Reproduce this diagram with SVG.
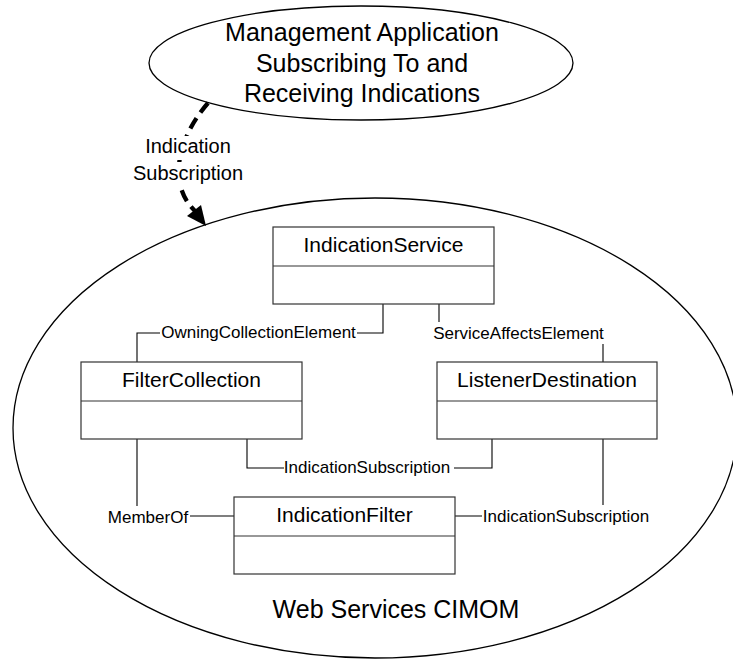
<svg xmlns="http://www.w3.org/2000/svg" width="733" height="659" viewBox="0 0 733 659">
<style>
.bg{fill:#fff}
.ell{fill:none;stroke:#000;stroke-width:1.3}
.box rect{fill:#fff;stroke:#333;stroke-width:1.2}
.box line{stroke:#333;stroke-width:1.2}
.title{font-family:"Liberation Sans",Arial,sans-serif;font-size:21px;fill:#000;text-anchor:middle}
.big{font-family:"Liberation Sans",Arial,sans-serif;font-size:25px;fill:#000;text-anchor:middle}
.lbl{font-family:"Liberation Sans",Arial,sans-serif;font-size:17px;fill:#000;text-anchor:middle}
.arrlbl{font-family:"Liberation Sans",Arial,sans-serif;font-size:20px;fill:#000;text-anchor:middle}
.conn{fill:none;stroke:#000;stroke-width:1.1}
.lblbg{fill:#fff}
</style>
<rect class="bg" x="0" y="0" width="733" height="659"/>

<g id="cimom">
  <ellipse class="ell" cx="375" cy="428" rx="362" ry="230"/>
  <text class="big" x="396" y="618">Web Services CIMOM</text>
</g>

<g id="mgmt-app">
  <ellipse class="ell" cx="361" cy="63" rx="212" ry="57"/>
  <text class="big" x="362" y="41">Management Application</text>
  <text class="big" x="362" y="72">Subscribing To and</text>
  <text class="big" x="362" y="102">Receiving Indications</text>
</g>

<g id="connectors">
  <path d="M208,103 C176,140 168,185 195,211" fill="none" stroke="#000" stroke-width="4.3" stroke-dasharray="12 7"/>
  <polygon points="206,226 187,216 201,205" fill="#000"/>
  <rect class="lblbg" x="140" y="136" width="96" height="24"/>
  <rect class="lblbg" x="131" y="162" width="114" height="24"/>
  <text class="arrlbl" x="188" y="153">Indication</text>
  <text class="arrlbl" x="188" y="180">Subscription</text>

  <polyline class="conn" points="383,304 383,333 137,333 137,362"/>
  <rect class="lblbg" x="160" y="321" width="197" height="22"/>
  <text class="lbl" x="258.5" y="338">OwningCollectionElement</text>

  <polyline class="conn" points="439,304 439,333 603,333 603,362"/>
  <rect class="lblbg" x="432" y="322" width="173" height="22"/>
  <text class="lbl" x="518.5" y="339">ServiceAffectsElement</text>

  <polyline class="conn" points="247,439 247,468 492,468 492,439"/>
  <rect class="lblbg" x="284" y="456" width="170" height="22"/>
  <text class="lbl" x="367" y="473">IndicationSubscription</text>

  <polyline class="conn" points="137,439 137,516 234,516"/>
  <rect class="lblbg" x="106" y="506" width="84" height="22"/>
  <text class="lbl" x="148" y="523">MemberOf</text>

  <polyline class="conn" points="603,439 603,516 455,516"/>
  <rect class="lblbg" x="482" y="505" width="170" height="22"/>
  <text class="lbl" x="566" y="522">IndicationSubscription</text>
</g>

<g id="IndicationService" class="box">
  <rect x="273" y="227" width="221" height="77"/>
  <line x1="273" y1="266" x2="494" y2="266"/>
  <text class="title" x="383.5" y="252">IndicationService</text>
</g>

<g id="FilterCollection" class="box">
  <rect x="81" y="362" width="221" height="77"/>
  <line x1="81" y1="401" x2="302" y2="401"/>
  <text class="title" x="191.5" y="387">FilterCollection</text>
</g>

<g id="ListenerDestination" class="box">
  <rect x="437" y="362" width="220" height="77"/>
  <line x1="437" y1="401" x2="657" y2="401"/>
  <text class="title" x="547" y="387">ListenerDestination</text>
</g>

<g id="IndicationFilter" class="box">
  <rect x="234" y="497" width="221" height="77"/>
  <line x1="234" y1="536" x2="455" y2="536"/>
  <text class="title" x="344.5" y="522">IndicationFilter</text>
</g>
</svg>
